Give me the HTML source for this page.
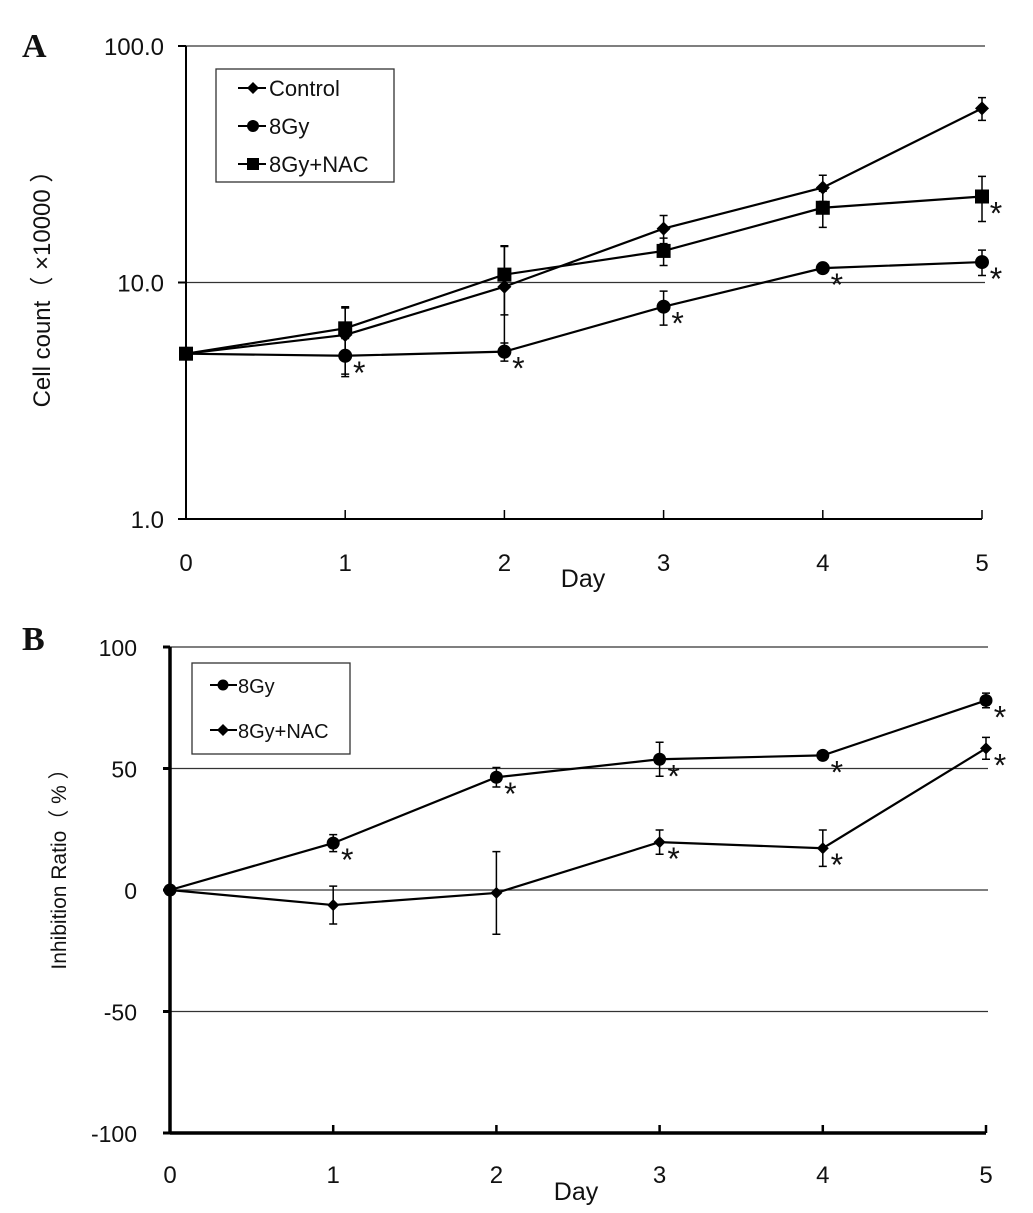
<!DOCTYPE html>
<html><head><meta charset="utf-8"><style>
body{margin:0;background:#fff}
svg{display:block}
text{font-family:"Liberation Sans","Noto Sans CJK SC",sans-serif;fill:#111}
</style></head><body>
<svg id="chart" width="1033" height="1213" viewBox="0 0 1033 1213" xmlns="http://www.w3.org/2000/svg">
<text x="22" y="57" style="font-family:'Liberation Serif',serif;font-weight:bold;font-size:34px">A</text>
<text x="22" y="650" style="font-family:'Liberation Serif',serif;font-weight:bold;font-size:34px">B</text>
<g id="pa"></g>
<g id="pb"></g>
</svg>
<script>
const days=[0,1,2,3,4,5];
const aTicks=[1,10,100];
const aTickLabels=["1.0","10.0","100.0"];
const ctrlVals=[5.0,6.0,9.6,16.9,25.2,54.5];
const ctrlErr=[0,1.9,4.6,2.3,3.2,6.0];
const gyVals=[5.0,4.9,5.1,7.9,11.5,12.2];
const gyErr=[0,0.9,0.45,1.3,0.4,1.5];
const nacVals=[5.0,6.4,10.8,13.6,20.7,23.1];
const nacErr=[0,1.4,3.5,1.8,3.6,5.0];
const gySig=[false,true,true,true,true,true];
const nacSig=[false,false,false,false,false,true];
const bTicks=[-100,-50,0,50,100];
const bGyVals=[0,19.3,46.4,53.8,55.4,78];
const bGyErr=[0,3.5,4.0,7.0,1.5,3.0];
const bNacVals=[0,-6.2,-1.2,19.7,17.2,58.3];
const bNacErr=[0,7.8,17,5,7.5,4.5];
const bGySig=[false,true,true,true,true,true];
const bNacSig=[false,false,false,true,true,true];

const NS="http://www.w3.org/2000/svg";
function mk(parent,tag,attrs){const e=document.createElementNS(NS,tag);for(const k in attrs)e.setAttribute(k,attrs[k]);parent.appendChild(e);return e;}
function txt(parent,x,y,s,size,anchor){const t=mk(parent,'text',{x:x,y:y,'font-size':size,'text-anchor':anchor||'middle'});t.textContent=s;return t;}
function marker(g,shape,x,y,s){
 if(shape==='circle')return mk(g,'circle',{cx:x,cy:y,r:s,fill:'#000'});
 if(shape==='square')return mk(g,'rect',{x:x-s,y:y-s,width:2*s,height:2*s,fill:'#000'});
 return mk(g,'polygon',{points:`${x},${y-s} ${x+s},${y} ${x},${y+s} ${x-s},${y}`,fill:'#000'});
}
function series(g,name,xs,ys,yTop,yBot,shape,size,sig){
 const sg=mk(g,'g',{});
 
 
 let pts=days.map((d,i)=>xs(d)+','+ys[i]).join(' ');
 mk(sg,'polyline',{points:pts,fill:'none',stroke:'#000','stroke-width':2.2});
 days.forEach((d,i)=>{
  const x=xs(d);
  if(yTop[i]!==ys[i]){
   const eb=mk(sg,'path',{d:`M${x},${yTop[i]}V${yBot[i]}M${x-4},${yTop[i]}h8M${x-4},${yBot[i]}h8`,stroke:'#000','stroke-width':1.5,fill:'none'});
   
   
  }
  const m=marker(sg,shape,x,ys[i],size);
  
  
  if(sig[i]){const t=txt(sg,x+14,ys[i]+28,'*',32);}
 });
}
// Panel A
(function(){
 const g=document.getElementById('pa');
 const X0=186,X1=982,YT=46,YB=519;
 const xs=d=>X0+(X1-X0)*d/5;
 const ys=v=>YB-(YB-YT)*Math.log10(v)/2;
 aTicks.forEach((t,i)=>{
  if(i>0)mk(g,'line',{x1:X0,x2:985,y1:ys(t),y2:ys(t),stroke:'#333','stroke-width':1.3});
  mk(g,'line',{x1:X0-8,x2:X0,y1:ys(t),y2:ys(t),stroke:'#000','stroke-width':2});
  const l=txt(g,X0-22,ys(t)+9,aTickLabels[i],24,'end');
  
  
 });
 mk(g,'line',{x1:X0,x2:X0,y1:YT,y2:YB,stroke:'#000','stroke-width':2});
 mk(g,'line',{x1:X0,x2:X1,y1:YB,y2:YB,stroke:'#000','stroke-width':2});
 days.forEach(d=>{
  mk(g,'line',{x1:xs(d),x2:xs(d),y1:YB-9,y2:YB,stroke:'#000','stroke-width':1.5});
  const l=txt(g,xs(d),571,String(d),24);
  
  
 });
 const xt=txt(g,583,587,'Day',25);
 
 
 const yt=txt(g,0,0,'Cell count\uff08 ×10000 \uff09',24);
 yt.setAttribute('transform','translate(50,283) rotate(-90)');
 
 
 const sA=(name,vals,err,shape,size,sig)=>series(g,name,xs,vals.map(ys),vals.map((v,i)=>ys(v+err[i])),vals.map((v,i)=>ys(v-err[i])),shape,size,sig);
 sA('control-series',ctrlVals,ctrlErr,'diamond',7,days.map(()=>false));
 sA('8gy-series',gyVals,gyErr,'circle',7,gySig);
 sA('8gy-nac-series',nacVals,nacErr,'square',7,nacSig);
 const lg=mk(g,'g',{});
 
 
 mk(lg,'rect',{x:216,y:69,width:178,height:113,fill:'#fff',stroke:'#333','stroke-width':1.3});
 [['Control','diamond',88],['8Gy','circle',126],['8Gy+NAC','square',164]].forEach(([n,s,y])=>{
  const e=mk(lg,'g',{});
  
  
  mk(e,'line',{x1:238,x2:266,y1:y,y2:y,stroke:'#000','stroke-width':2});
  marker(e,s,253,y,6);
  txt(e,269,y+8,n,22,'start');
 });
})();
// Panel B
(function(){
 const g=document.getElementById('pb');
 const X0=170,X1=986,YT=647,YB=1133;
 const xs=d=>X0+(X1-X0)*d/5;
 const ys=v=>YB-(YB-YT)*(v+100)/200;
 bTicks.forEach(t=>{
  if(t>-100)mk(g,'line',{x1:X0,x2:988,y1:ys(t),y2:ys(t),stroke:'#333','stroke-width':1.3});
  mk(g,'line',{x1:X0-7,x2:X0,y1:ys(t),y2:ys(t),stroke:'#000','stroke-width':3});
  const l=txt(g,X0-33,ys(t)+9,String(t),23,'end');
  
  
 });
 mk(g,'line',{x1:X0,x2:X0,y1:YT,y2:YB,stroke:'#000','stroke-width':3.5});
 mk(g,'line',{x1:X0,x2:X1,y1:YB,y2:YB,stroke:'#000','stroke-width':3.5});
 days.forEach(d=>{
  mk(g,'line',{x1:xs(d),x2:xs(d),y1:YB-8,y2:YB,stroke:'#000','stroke-width':2.5});
  const l=txt(g,xs(d),1183,String(d),24);
  
  
 });
 const xt=txt(g,576,1200,'Day',25);
 
 
 const yt=txt(g,0,0,'Inhibition Ratio\uff08 % \uff09',21);
 yt.setAttribute('transform','translate(66,864) rotate(-90)');
 
 
 const sB=(name,vals,err,shape,size,sig)=>series(g,name,xs,vals.map(ys),vals.map((v,i)=>ys(v+err[i])),vals.map((v,i)=>ys(v-err[i])),shape,size,sig);
 sB('8gy-nac-series',bNacVals,bNacErr,'diamond',6,bNacSig);
 sB('8gy-series',bGyVals,bGyErr,'circle',6.5,bGySig);
 const lg=mk(g,'g',{});
 
 
 mk(lg,'rect',{x:192,y:663,width:158,height:91,fill:'#fff',stroke:'#333','stroke-width':1.3});
 [['8Gy','circle',685],['8Gy+NAC','diamond',730]].forEach(([n,s,y])=>{
  const e=mk(lg,'g',{});
  
  
  mk(e,'line',{x1:210,x2:237,y1:y,y2:y,stroke:'#000','stroke-width':2});
  marker(e,s,223,y,s==='circle'?5.5:6);
  txt(e,238,y+8,n,20,'start');
 });
})();
</script>
</body></html>
